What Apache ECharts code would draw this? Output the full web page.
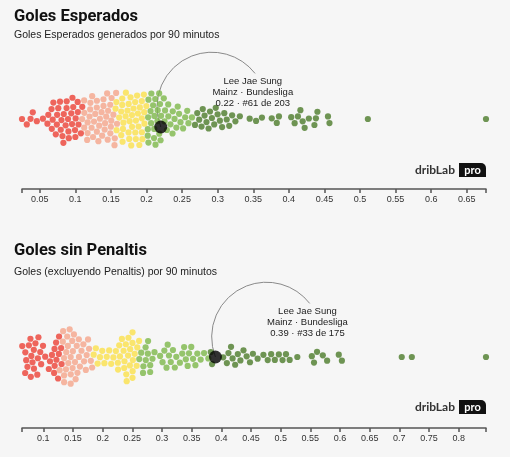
<!DOCTYPE html>
<html><head><meta charset="utf-8">
<script src="https://cdn.jsdelivr.net/npm/echarts@6/dist/echarts.min.js"></script>
<style>html,body{margin:0;padding:0;background:#f6f6f6}#c{width:510px;height:457px}</style>
</head><body><div id="c"></div>
<script>
// ---- data ----
const playerName = 'Lee Jae Sung';
const playerTeam = 'Mainz · Bundesliga';

const xgPlayer = 0.22;
const xgValues = [
 0.025,0.032,0.037,0.040,0.046,0.056,
 0.062,0.063,0.066,0.067,0.069,0.070,0.072,0.074,0.075,0.076,
 0.078,0.079,0.081,0.082,0.083,0.084,0.086,0.087,0.088,0.090,
 0.091,0.092,0.094,0.095,0.096,0.097,0.099,0.100,0.101,0.103,
 0.104,0.106,0.107,0.109,0.111,
 0.112,0.113,0.115,0.116,0.117,0.118,0.120,0.121,0.122,0.123,
 0.124,0.125,0.127,0.128,0.129,0.130,0.131,0.132,0.134,0.135,
 0.136,0.137,0.138,0.139,0.141,0.142,0.143,0.144,0.145,0.147,
 0.148,0.149,0.150,0.151,0.152,0.153,0.154,0.155,0.156,0.157,0.158,
 0.159,0.160,0.162,0.163,0.164,0.165,0.166,0.167,0.168,0.170,
 0.171,0.172,0.173,0.174,0.175,0.176,0.177,0.178,0.179,0.180,
 0.181,0.182,0.183,0.184,0.185,0.186,0.187,0.188,0.189,0.190,
 0.191,0.192,0.193,0.194,0.195,0.196,0.197,0.198,0.199,0.200,0.201,
 0.202,0.203,0.204,0.205,0.206,0.207,0.208,0.209,0.210,0.211,
 0.212,0.213,0.214,0.215,0.216,0.217,0.218,0.219,0.220,
 0.223,0.225,0.226,0.228,0.230,0.231,0.233,0.235,0.237,0.239,
 0.241,0.243,0.245,0.248,0.251,0.254,0.257,0.260,0.264,0.268,
 0.271,0.274,0.277,0.279,0.282,0.284,0.287,0.289,0.292,0.295,
 0.297,0.300,0.303,0.306,0.309,0.313,0.316,0.320,0.325,0.331,
 0.345,0.354,0.362,0.376,0.383,0.386,
 0.404,0.408,0.413,0.416,0.419,0.422,0.428,0.436,0.438,0.440,0.455,0.457,
 0.511,0.677
];
const xgTickLabels = [0.05,0.1,0.15,0.2,0.25,0.3,0.35,0.4,0.45,0.5,0.55,0.6,0.65];

const npPlayer = 0.39;
const npValues = [
 0.064,0.066,0.068,0.069,0.071,0.072,0.074,0.075,0.077,0.078,
 0.080,0.081,0.083,0.084,0.086,0.087,0.089,0.091,0.093,0.096,
 0.099,0.103,
 0.112,0.114,0.116,0.118,0.119,0.121,0.122,0.124,0.125,0.127,0.128,0.130,0.131,
 0.132,0.133,0.134,0.135,0.136,0.137,0.138,0.139,0.140,0.141,
 0.142,0.143,0.144,0.145,0.146,0.147,0.148,0.149,0.150,0.152,
 0.153,0.155,0.156,0.158,0.160,0.162,0.164,0.166,0.168,0.170,
 0.172,0.174,0.177,0.180,0.183,
 0.185,0.188,0.191,0.195,0.199,0.203,0.207,0.211,0.215,0.219,
 0.222,0.225,0.228,0.230,0.232,0.234,0.236,0.237,0.239,0.240,
 0.241,0.242,0.243,0.244,0.245,0.246,0.247,0.248,0.249,0.250,
 0.252,0.254,0.256,0.258,0.261,
 0.263,0.265,0.267,0.268,0.270,0.272,0.274,0.276,0.278,0.280,0.283,0.286,
 0.298,0.301,0.304,0.307,0.309,0.312,0.315,0.318,0.321,0.325,
 0.330,0.334,0.337,0.340,0.343,0.346,0.349,0.352,0.356,0.360,0.365,0.372,0.378,
 0.381,0.384,
 0.404,0.409,0.412,0.416,0.419,0.423,0.428,0.432,0.437,0.443,0.448,0.453,
 0.461,0.471,0.478,0.484,0.490,0.497,0.503,0.509,0.515,0.528,
 0.553,0.556,0.561,0.571,0.578,0.598,0.603,
 0.704,0.721,0.846
];
const npTickLabels = [0.1,0.15,0.2,0.25,0.3,0.35,0.4,0.45,0.5,0.55,0.6,0.65,0.7,0.75,0.8];

// ---- styling ----
const COLORS = ['#4c7c2a','#7db84a','#fbe14b','#f5a58b','#ec4136']; // top -> bottom quintile
const PANELS = [
  {title:'Goles Esperados', sub:'Goles Esperados generados por 90 minutos',
   values:xgValues, player:xgPlayer, labels:xgTickLabels, playerLane:8,
   gridTop:49, gridH:140, titleY:17, subY:35, logoY:170},
  {title:'Goles sin Penaltis', sub:'Goles (excluyendo Penaltis) por 90 minutos',
   values:npValues, player:npPlayer, labels:npTickLabels, playerLane:0,
   gridTop:286, gridH:142, titleY:251, subY:272, logoY:407}
];
const LEFT = 22, RIGHT = 24, W = 510 - LEFT - RIGHT;
const DOT = 6.2, D = 6.8;

// beeswarm layout in pixel space; the highlighted player is placed first on its lane
function swarm(vals, min, max, first, lane) {
  const s = W / (max - min);
  const nodes = vals.map((v, i) => ({i, v, tx:(v - min) * s, x:(v - min) * s, y:0}));
  const order = nodes.slice().sort((a, b) => a.tx - b.tx);
  const fi = order.findIndex(n => n.i === first);
  const fnode = order.splice(fi, 1)[0];
  fnode.y = lane; fnode.fixed = true;
  const placed = [fnode];
  for (const n of order) {
    const cands = [0];
    for (const p of placed) {
      const dx = n.x - p.x;
      if (Math.abs(dx) < D) { const dy = Math.sqrt(D*D - dx*dx); cands.push(p.y + dy, p.y - dy); }
    }
    cands.sort((a, b) => Math.abs(a) - Math.abs(b));
    for (const c of cands) {
      let ok = true;
      for (const p of placed) { const dx = n.x - p.x, dy = c - p.y; if (dx*dx + dy*dy < D*D - 1e-6) { ok = false; break; } }
      if (ok) { n.y = c; break; }
    }
    placed.push(n);
  }
  const D2 = D * D;
  for (let it = 0; it < 60; it++) {
    for (const n of nodes) { if (n.fixed) continue; n.x += (n.tx - n.x) * 0.55; n.y *= 0.975; }
    for (let pass = 0; pass < 3; pass++) {
      for (let a = 0; a < nodes.length; a++) {
        const A = nodes[a];
        for (let b = a + 1; b < nodes.length; b++) {
          const B = nodes[b];
          let dx = B.x - A.x; if (dx > D || dx < -D) continue;
          let dy = B.y - A.y; let d2 = dx*dx + dy*dy;
          if (d2 < D2) {
            let d = Math.sqrt(d2);
            if (d < 1e-6) { dy = (b % 2 ? 1 : -1) * 0.01; dx = 0; d = 0.01; }
            const m = (D - d) / d;
            const wa = A.fixed ? 0 : (B.fixed ? 1 : 0.5), wb = 1 - wa;
            A.x -= dx*m*wa; A.y -= dy*m*wa; B.x += dx*m*wb; B.y += dy*m*wb;
          }
        }
      }
    }
  }
  return nodes.map(n => ({v: min + n.x / s, y: n.y}));
}

const chart = echarts.init(document.getElementById('c'), null, {renderer:'canvas'});
const grids = [], xAxes = [], yAxes = [], series = [], meta = [];
PANELS.forEach((P, k) => {
  const all = P.values.concat([P.player]);
  const pIdx = all.length - 1;
  const min = Math.min(...all), max = Math.max(...all);
  const pos = swarm(all, min, max, pIdx, P.playerLane);
  const idx = all.map((v, i) => i).sort((a, b) => all[b] - all[a]);
  const group = new Array(all.length);
  idx.forEach((i, r) => { group[i] = Math.floor(r * 5 / all.length); });
  const rank = 1 + all.filter(v => v > P.player).length;
  const half = P.gridH / 2;
  grids.push({left:LEFT, right:RIGHT, top:P.gridTop, height:P.gridH});
  xAxes.push({type:'value', gridIndex:k, min:min, max:max,
    axisLine:{show:true, onZero:false, lineStyle:{color:'#555', width:1.5}},
    axisTick:{show:true, customValues:[min].concat(P.labels, [max]), length:4, lineStyle:{color:'#555', width:1.5}},
    axisLabel:{show:true, customValues:P.labels, color:'#333', fontSize:9, margin:6,
      fontFamily:'Liberation Sans', formatter: v => String(v)},
    splitLine:{show:false}});
  yAxes.push({type:'value', gridIndex:k, min:-half, max:half, show:false});
  series.push({type:'scatter', xAxisIndex:k, yAxisIndex:k, symbolSize:DOT, silent:true, z:3,
    data: all.map((v, i) => i === pIdx ? null : {value:[pos[i].v, -pos[i].y], itemStyle:{color:COLORS[group[i]]}}).filter(d => d)});
  series.push({type:'scatter', xAxisIndex:k, yAxisIndex:k, symbolSize:13, silent:true, z:4,
    itemStyle:{color:'#000'}, data:[[pos[pIdx].v, -pos[pIdx].y]]});
  meta.push({pv:pos[pIdx].v, py:-pos[pIdx].y, rank:rank, n:all.length});
});

chart.setOption({
  backgroundColor:'#f6f6f6', animation:false,
  grid:grids, xAxis:xAxes, yAxis:yAxes, series:series
});

const graphics = [];
PANELS.forEach((P, k) => {
  const M = meta[k];
  const p = chart.convertToPixel({xAxisIndex:k, yAxisIndex:k}, [M.pv, M.py]);
  const cx = p[0] + 51, cy = p[1] - 20;
  const r = Math.hypot(p[0] - cx, p[1] - cy);
  const sa = Math.atan2(p[1] - cy, p[0] - cx);
  graphics.push({type:'arc', z:1, silent:true,
    shape:{cx:cx, cy:cy, r:r, startAngle:sa, endAngle:2*Math.PI - 0.66, clockwise:true},
    style:{stroke:'#8a8a8a', fill:null, lineWidth:1}});
  const lines = [playerName, playerTeam, P.player.toFixed(2) + ' · #' + M.rank + ' de ' + M.n];
  lines.forEach((t, j) => graphics.push({type:'text', z:5, silent:true, x:cx + 41, y:cy - 26 + j*11,
    style:{text:t, fill:'#222', font:'9.5px "Liberation Sans"', align:'center', textAlign:'center', verticalAlign:'middle', textVerticalAlign:'middle'}}));
  graphics.push({type:'text', x:14, y:P.titleY, silent:true,
    style:{text:P.title, fill:'#111', font:'bold 16.5px Roboto', verticalAlign:'middle', textVerticalAlign:'middle'}});
  graphics.push({type:'text', x:14, y:P.subY, silent:true,
    style:{text:P.sub, fill:'#222', font:'10.5px "Liberation Sans"', verticalAlign:'middle', textVerticalAlign:'middle'}});
  // logo
  graphics.push({type:'text', x:455, y:P.logoY, silent:true,
    style:{text:'dribLab', fill:'#333', font:'bold 12px Lato', align:'right', textAlign:'right', verticalAlign:'middle', textVerticalAlign:'middle'}});
  graphics.push({type:'rect', x:459, y:P.logoY - 7, silent:true, shape:{width:27, height:14, r:[0,5,0,0]}, style:{fill:'#111'}});
  graphics.push({type:'text', x:472.5, y:P.logoY, silent:true,
    style:{text:'pro', fill:'#fff', font:'bold 11px Lato', align:'center', textAlign:'center', verticalAlign:'middle', textVerticalAlign:'middle'}});
});
chart.setOption({graphic:{elements:graphics}});
</script>
</body></html>
